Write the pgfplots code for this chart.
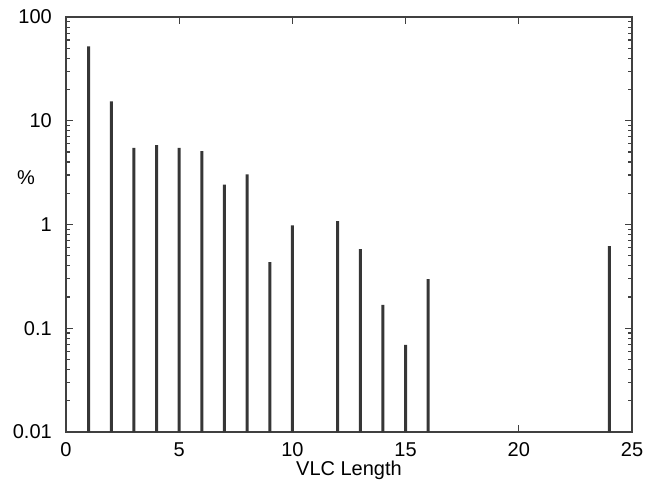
\documentclass[border=0pt]{standalone}
\usepackage{fontspec}
\setmainfont{Liberation Sans}
\usepackage{pgfplots}
\pgfplotsset{compat=1.18}
\definecolor{bar}{HTML}{363636}
\definecolor{frame}{HTML}{404040}
\begin{document}
\fontsize{20bp}{24bp}\selectfont
\begin{tikzpicture}
\begin{axis}[at={(0,0)},anchor=south west,scale only axis,width=566bp,height=415bp,
  ymode=log,log origin=infty,xmin=0,xmax=25,ymin=0.01,ymax=100,
  xtick={0,5,10,15,20,25},
  ytick={0.01,0.1,1,10,100},yticklabels={0.01,0.1,1,10,100},
  tick align=inside,major tick length=7bp,minor tick length=4bp,
  axis line style={frame,line width=1.2bp},
  every tick/.style={frame,line width=1.1bp},
  /pgf/number format/assume math mode=true,
  xticklabel style={anchor=base,inner sep=0pt,yshift=-24bp},
  yticklabel style={anchor=east,inner sep=0pt,xshift=-14bp},
  xlabel={VLC Length},
  xlabel style={at={(axis description cs:0.5,0)},anchor=base,yshift=-43.5bp,inner sep=0pt},
  ylabel={\%},
  ylabel style={at={(axis description cs:-0.0707,0.612)},anchor=center,rotate=-90,inner sep=0pt},
  clip=false]
\addplot[ybar,bar width=3bp,fill=bar,draw=none] coordinates {
 (1,52) (2,15.4) (3,5.48) (4,5.82) (5,5.48) (6,5.1) (7,2.42) (8,3.04)
 (9,0.435) (10,0.98) (12,1.08) (13,0.58) (14,0.168) (15,0.069) (16,0.297)
 (24,0.62)};
\end{axis}
\pgfresetboundingbox
\path (-66bp,-49bp) rectangle (585bp,432bp);
\end{tikzpicture}
\end{document}
